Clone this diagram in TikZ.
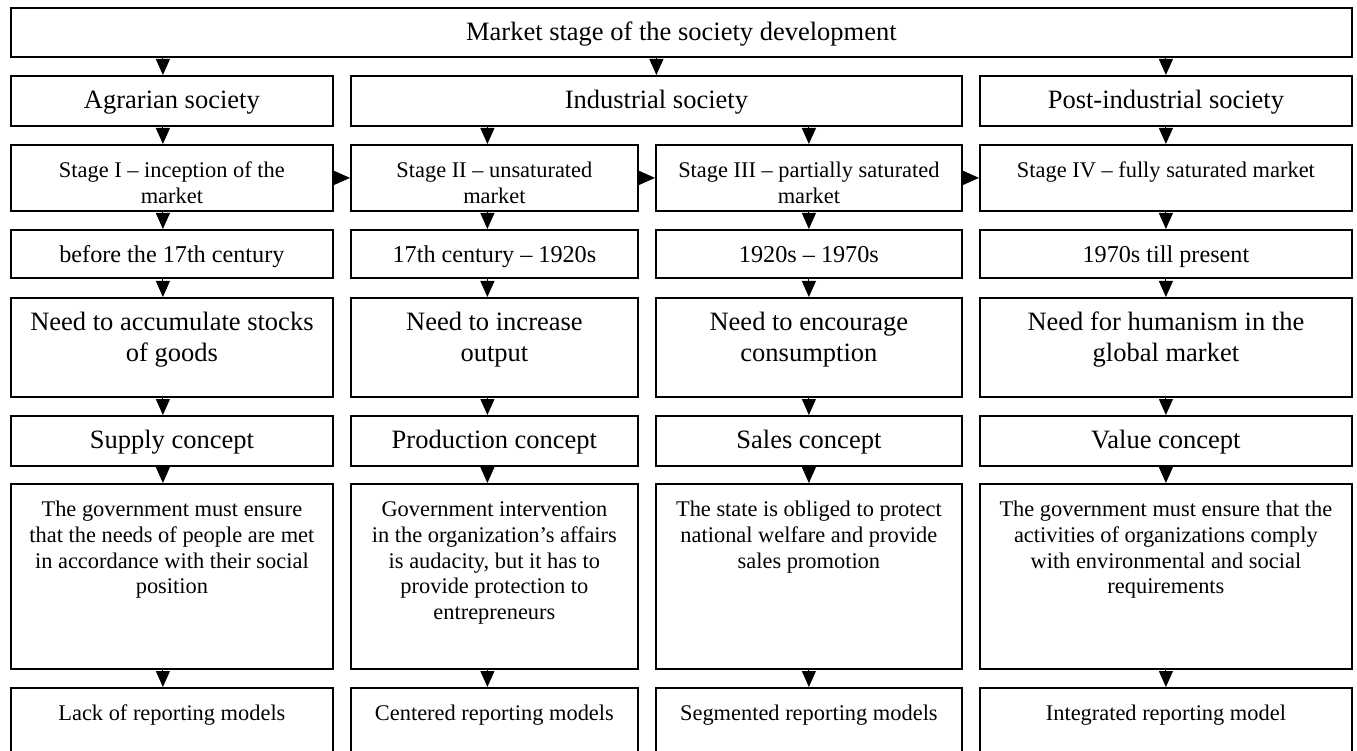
\documentclass[tikz,border=0pt]{standalone}
\usepackage{fontspec}
\setmainfont{Liberation Serif}
\usetikzlibrary{arrows.meta}

\newcommand{\bigtxt}{\fontsize{26.5}{30.4}\selectfont}
\newcommand{\midtxt}{\fontsize{24.2}{27.5}\selectfont}
\newcommand{\smalltxt}{\fontsize{22.4}{25.6}\selectfont}
% text of a box: width, height, text
\newcommand{\boxtxt}[3]{\parbox[c][#2][t]{#1}{\centering\rule{0pt}{33pt}#3}}

\tikzset{
  cellbox/.style={draw, line width=1.8pt, inner sep=0pt, anchor=north west},
  arr/.style={-{Triangle[length=16pt,width=14pt]}, line width=1pt}
}

\begin{document}
\begin{tikzpicture}[x=1pt,y=-1pt]

\clip (0,0) rectangle (1357,751);

% Market stage
\node[cellbox,font=\bigtxt] (market) at (10,7)
{\boxtxt{1341pt}{49pt}{Market stage of the society development}};

% Societies
\node[cellbox,font=\bigtxt] (agr) at (10,75)
{\boxtxt{322pt}{50pt}{Agrarian society}};
\node[cellbox,font=\bigtxt] (ind) at (350,75)
{\boxtxt{611pt}{50pt}{Industrial society}};
\node[cellbox,font=\bigtxt] (post) at (979,75)
{\boxtxt{372pt}{50pt}{Post-industrial society}};

% Stages
\node[cellbox,font=\smalltxt] (st1) at (10,144)
{\boxtxt{322pt}{66pt}{Stage I -- inception of the\\market}};
\node[cellbox,font=\smalltxt] (st2) at (350,144)
{\boxtxt{287pt}{66pt}{Stage II -- unsaturated\\market}};
\node[cellbox,font=\smalltxt] (st3) at (655,144)
{\boxtxt{306pt}{66pt}{Stage III -- partially saturated\\market}};
\node[cellbox,font=\smalltxt] (st4) at (979,144)
{\boxtxt{372pt}{66pt}{Stage IV -- fully saturated market}};

% Periods
\node[cellbox,font=\midtxt] (per1) at (10,229)
{\boxtxt{322pt}{48pt}{before the 17th century}};
\node[cellbox,font=\midtxt] (per2) at (350,229)
{\boxtxt{287pt}{48pt}{17th century -- 1920s}};
\node[cellbox,font=\midtxt] (per3) at (655,229)
{\boxtxt{306pt}{48pt}{1920s -- 1970s}};
\node[cellbox,font=\midtxt] (per4) at (979,229)
{\boxtxt{372pt}{48pt}{1970s till present}};

% Needs
\node[cellbox,font=\bigtxt] (need1) at (10,297)
{\boxtxt{322pt}{99pt}{Need to accumulate stocks\\of goods}};
\node[cellbox,font=\bigtxt] (need2) at (350,297)
{\boxtxt{287pt}{99pt}{Need to increase\\output}};
\node[cellbox,font=\bigtxt] (need3) at (655,297)
{\boxtxt{306pt}{99pt}{Need to encourage\\consumption}};
\node[cellbox,font=\bigtxt] (need4) at (979,297)
{\boxtxt{372pt}{99pt}{Need for humanism in the\\global market}};

% Concepts
\node[cellbox,font=\bigtxt] (con1) at (10,415)
{\boxtxt{322pt}{50pt}{Supply concept}};
\node[cellbox,font=\bigtxt] (con2) at (350,415)
{\boxtxt{287pt}{50pt}{Production concept}};
\node[cellbox,font=\bigtxt] (con3) at (655,415)
{\boxtxt{306pt}{50pt}{Sales concept}};
\node[cellbox,font=\bigtxt] (con4) at (979,415)
{\boxtxt{372pt}{50pt}{Value concept}};

% Government
\node[cellbox,font=\smalltxt] (gov1) at (10,483)
{\boxtxt{322pt}{185pt}{The government must ensure\\that the needs of people are met\\in accordance with their social\\position}};
\node[cellbox,font=\smalltxt] (gov2) at (350,483)
{\boxtxt{287pt}{185pt}{Government intervention\\in the organization's affairs\\is audacity, but it has to\\provide protection to\\entrepreneurs}};
\node[cellbox,font=\smalltxt] (gov3) at (655,483)
{\boxtxt{306pt}{185pt}{The state is obliged to protect\\national welfare and provide\\sales promotion}};
\node[cellbox,font=\smalltxt] (gov4) at (979,483)
{\boxtxt{372pt}{185pt}{The government must ensure that the\\activities of organizations comply\\with environmental and social\\requirements}};

% Reporting models
\node[cellbox,font=\smalltxt] (rep1) at (10,687)
{\boxtxt{322pt}{100pt}{Lack of reporting models}};
\node[cellbox,font=\smalltxt] (rep2) at (350,687)
{\boxtxt{287pt}{100pt}{Centered reporting models}};
\node[cellbox,font=\smalltxt] (rep3) at (655,687)
{\boxtxt{306pt}{100pt}{Segmented reporting models}};
\node[cellbox,font=\smalltxt] (rep4) at (979,687)
{\boxtxt{372pt}{100pt}{Integrated reporting model}};

% Arrows from the top
\draw[arr] ([xshift=-9pt]market.south -| agr.south) -- ([xshift=-9pt]agr.north);
\draw[arr] (market.south -| ind.south) -- (ind.north);
\draw[arr] (market.south -| post.south) -- (post.north);

% Arrows to the stages
\draw[arr] ([xshift=-9pt]agr.south) -- ([xshift=-9pt]st1.north);
\draw[arr] (ind.south -| st2.north) ++(-7pt,0) -- ([xshift=-7pt]st2.north);
\draw[arr] (ind.south -| st3.north) -- (st3.north);
\draw[arr] (post.south) -- (st4.north);

% Stage to stage
\draw[arr] (st1.east) -- (st2.west);
\draw[arr] (st2.east) -- (st3.west);
\draw[arr] (st3.east) -- (st4.west);

% Columns
\draw[arr] ([xshift=-9pt]st1.south) -- ([xshift=-9pt]per1.north);
\draw[arr] ([xshift=-9pt]per1.south) -- ([xshift=-9pt]need1.north);
\draw[arr] ([xshift=-9pt]need1.south) -- ([xshift=-9pt]con1.north);
\draw[arr] ([xshift=-9pt]con1.south) -- ([xshift=-9pt]gov1.north);
\draw[arr] ([xshift=-9pt]gov1.south) -- ([xshift=-9pt]rep1.north);

\draw[arr] ([xshift=-7pt]st2.south) -- ([xshift=-7pt]per2.north);
\draw[arr] ([xshift=-7pt]per2.south) -- ([xshift=-7pt]need2.north);
\draw[arr] ([xshift=-7pt]need2.south) -- ([xshift=-7pt]con2.north);
\draw[arr] ([xshift=-7pt]con2.south) -- ([xshift=-7pt]gov2.north);
\draw[arr] ([xshift=-7pt]gov2.south) -- ([xshift=-7pt]rep2.north);

\draw[arr] (st3.south) -- (per3.north);
\draw[arr] (per3.south) -- (need3.north);
\draw[arr] (need3.south) -- (con3.north);
\draw[arr] (con3.south) -- (gov3.north);
\draw[arr] (gov3.south) -- (rep3.north);

\draw[arr] (st4.south) -- (per4.north);
\draw[arr] (per4.south) -- (need4.north);
\draw[arr] (need4.south) -- (con4.north);
\draw[arr] (con4.south) -- (gov4.north);
\draw[arr] (gov4.south) -- (rep4.north);

\end{tikzpicture}
\end{document}
